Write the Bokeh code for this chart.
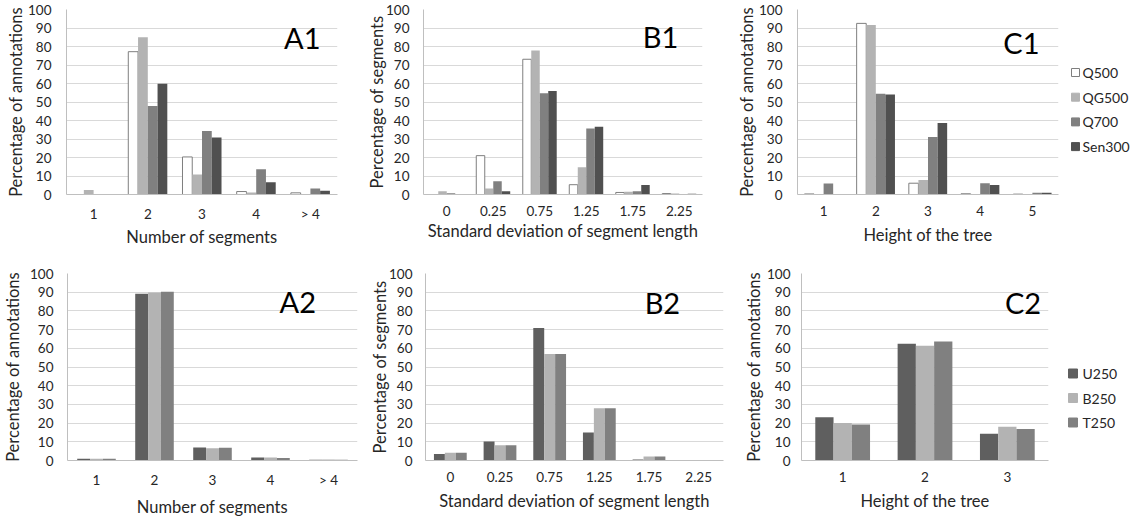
from bokeh.plotting import figure
from bokeh.models import FactorRange, Range1d, FixedTicker, Label, ColumnDataSource
from bokeh.core.properties import value
from bokeh.transform import dodge
from bokeh.layouts import row, column
from bokeh.embed import file_html
from bokeh.resources import INLINE

# ---------------- data ----------------
cats_A = ["1", "2", "3", "4", "> 4"]
cats_B = ["0", "0.25", "0.75", "1.25", "1.75", "2.25"]
cats_C1 = ["1", "2", "3", "4", "5"]
cats_C2 = ["1", "2", "3"]

series_top = ["Q500", "QG500", "Q700", "Sen300"]
series_bot = ["U250", "B250", "T250"]

A1_Q500 = [0, 77.2, 20.3, 1.6, 0.9]
A1_QG500 = [2.4, 85.0, 10.8, 1.1, 0]
A1_Q700 = [0, 47.8, 34.3, 13.7, 3.3]
A1_Sen300 = [0, 59.9, 30.8, 6.6, 2.0]

B1_Q500 = [0, 21.0, 73.1, 5.3, 1.1, 0.5]
B1_QG500 = [1.7, 3.3, 77.9, 14.7, 1.5, 0.5]
B1_Q700 = [0.7, 7.2, 54.7, 35.7, 1.8, 0]
B1_Sen300 = [0, 1.8, 56.0, 36.6, 5.2, 0.4]

C1_Q500 = [0.3, 92.5, 6.1, 0.4, 0.2]
C1_QG500 = [0, 91.6, 7.9, 0, 0]
C1_Q700 = [5.9, 54.5, 31.1, 6.1, 0.9]
C1_Sen300 = [0, 54.1, 38.6, 5.1, 0.9]

A2_U250 = [0.9, 89.2, 7.0, 1.6, 0.4]
A2_B250 = [0.9, 89.8, 6.6, 1.6, 0.5]
A2_T250 = [0.9, 90.3, 6.8, 1.3, 0.4]

B2_U250 = [3.5, 10.2, 70.8, 15.0, 0.5, 0]
B2_B250 = [4.2, 8.2, 56.9, 27.9, 2.2, 0]
B2_T250 = [4.2, 8.2, 56.9, 27.9, 2.2, 0]

C2_U250 = [23.1, 62.4, 14.3]
C2_B250 = [20.1, 61.4, 18.0]
C2_T250 = [19.2, 63.6, 16.8]

y_ticks = list(range(0, 101, 10))

# ---------------- styles ----------------
FONT = "Lato"
TXT = "#262626"
fill_top = ["#ffffff", "#b3b3b3", "#808080", "#505050"]
line_top = ["#7f7f7f", None, None, None]
fill_bot = ["#5f5f5f", "#b3b3b3", "#808080"]
line_bot = [None, None, None]

H1, H2 = 254, 265
BT1, BB1 = 9, 60       # shared frame borders of the top row
BT2, BB2 = 19, 59      # shared frame borders of the bottom row


def panel(cats, values, names, fills, lines, width, height, bl, br, bt, bb,
          group, xtitle, ytitle, ytick_so, ytitle_so, xtick_so, xtitle_so,
          tag, tag_x, tag_y):
    p = figure(x_range=FactorRange(factors=cats, range_padding=0),
               y_range=Range1d(0, 100), width=width, height=height,
               output_backend="svg", toolbar_location=None,
               min_border_left=bl, min_border_right=br,
               min_border_top=bt, min_border_bottom=bb)
    p.outline_line_color = None
    p.background_fill_color = "white"
    p.border_fill_color = "white"
    data = {"cat": cats}
    for n, v in zip(names, values):
        data[n] = v
    src = ColumnDataSource(data)
    k = len(names)
    bw = group / k
    for i, n in enumerate(names):
        off = -group / 2 + bw * (i + 0.5)
        p.vbar(x=dodge("cat", off, range=p.x_range), top=n, width=bw,
               source=src, fill_color=fills[i],
               line_color=lines[i], line_width=1)
    p.xgrid.grid_line_color = None
    p.ygrid.grid_line_color = "#d9d9d9"
    p.ygrid.grid_line_width = 1
    p.yaxis.ticker = FixedTicker(ticks=y_ticks)
    for ax in (p.xaxis[0], p.yaxis[0]):
        ax.major_tick_out = 0
        ax.major_tick_in = 0
        ax.minor_tick_out = 0
        ax.minor_tick_in = 0
        ax.major_tick_line_color = None
        ax.minor_tick_line_color = None
        ax.axis_line_color = "#bfbfbf"
        ax.major_label_text_font = FONT
        ax.major_label_text_font_size = "13.5px"
        ax.major_label_text_color = TXT
        ax.axis_label_text_font = FONT
        ax.axis_label_text_font_size = "16.5px"
        ax.axis_label_text_font_style = "normal"
        ax.axis_label_text_color = TXT
    p.yaxis.axis_label = ytitle
    p.xaxis.axis_label = xtitle
    p.yaxis.major_label_standoff = ytick_so
    p.yaxis.axis_label_standoff = ytitle_so
    p.xaxis.major_label_standoff = xtick_so
    p.xaxis.axis_label_standoff = xtitle_so
    p.add_layout(Label(x=tag_x, y=tag_y, text=tag, text_font=FONT,
                       text_font_size="29px", text_color="#000000",
                       text_align="center", text_baseline="middle"))
    return p


def legend_fig(names, fills, lines, width, height, bt, bb, sx, top_y, pitch, gsz, tx):
    # pixel-unit canvas: data y == pixels from figure bottom, data x == pixels from left
    p = figure(width=width, height=height, output_backend="svg",
               toolbar_location=None, x_axis_location=None, y_axis_location=None,
               min_border_left=0, min_border_right=0, min_border_top=bt,
               min_border_bottom=bb, x_range=Range1d(0, width),
               y_range=Range1d(bb, height - bt))
    p.outline_line_color = None
    p.xgrid.grid_line_color = None
    p.ygrid.grid_line_color = None
    ys = [height - (top_y + i * pitch) for i in range(len(names))]
    src = ColumnDataSource(dict(x=[sx] * len(names), tx=[tx] * len(names), y=ys,
                                name=names, fill=fills,
                                line=[l if l is not None else f for l, f in zip(lines, fills)]))
    p.rect(x="x", y="y", width=gsz, height=gsz, source=src,
           fill_color="fill", line_color="line", line_width=1)
    p.text(x="tx", y="y", text="name", source=src, text_font=value(FONT),
           text_font_size="14px", text_color=TXT, text_baseline="middle",
           text_align="left")
    return p


a1 = panel(cats_A, [A1_Q500, A1_QG500, A1_Q700, A1_Sen300], series_top, fill_top, line_top,
           364, H1, 66, 27, BT1, BB1, 0.72, "Number of segments", "Percentage of annotations",
           15, -1, 11, 2, "A1", 4.35, 85)
b1 = panel(cats_B, [B1_Q500, B1_QG500, B1_Q700, B1_Sen300], series_top, fill_top, line_top,
           369, H1, 59, 31, BT1, BB1, 0.73, "Standard deviation of segment length", "Percentage of segments",
           14, -4, 11, 2, "B1", 5.1, 85.5)
c1 = panel(cats_C1, [C1_Q500, C1_QG500, C1_Q700, C1_Sen300], series_top, fill_top, line_top,
           330, H1, 64, 5, BT1, BB1, 0.734, "Height of the tree", "Percentage of annotations",
           15, -1, 11, 6, "C1", 4.29, 82.4)
l1 = legend_fig(series_top, fill_top, line_top, 74, H1, BT1, BB1, 12, 72, 24.7, 8, 19)

a2 = panel(cats_A, [A2_U250, A2_B250, A2_T250], series_bot, fill_bot, line_bot,
           364, H2, 66, 7, BT2, BB2, 0.665, "Number of segments", "Percentage of annotations",
           14, 4, 11, 6, "A2", 3.97, 85)
b2 = panel(cats_B, [B2_U250, B2_B250, B2_T250], series_bot, fill_bot, line_bot,
           369, H2, 61, 10, BT2, BB2, 0.66, "Standard deviation of segment length", "Percentage of segments",
           13, -4, 11, 6, "B2", 4.77, 84.5)
c2 = panel(cats_C2, [C2_U250, C2_B250, C2_T250], series_bot, fill_bot, line_bot,
           320, H2, 68, 5, BT2, BB2, 0.665, "Height of the tree", "Percentage of annotations",
           11, 0, 11, 6, "C2", 2.69, 84.3)
l2 = legend_fig(series_bot, fill_bot, line_bot, 84, H2, BT2, BB2, 19.5, 119, 24.5, 9, 29)

layout = column(row(a1, b1, c1, l1), row(a2, b2, c2, l2))

with open("out.html", "w") as f:
    f.write(file_html(layout, INLINE))
